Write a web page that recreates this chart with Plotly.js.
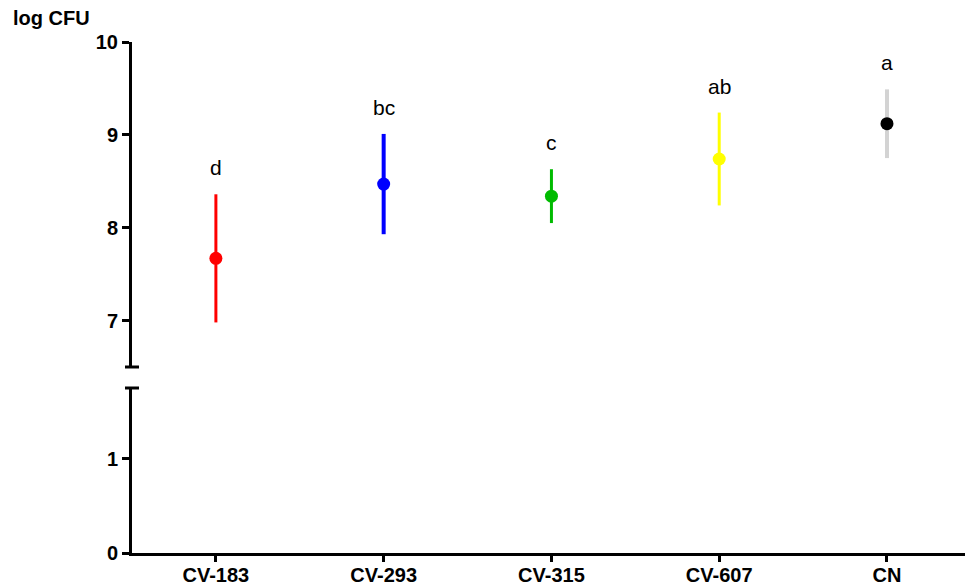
<!DOCTYPE html>
<html>
<head>
<meta charset="utf-8">
<script src="https://cdn.plot.ly/plotly-3.0.1.min.js"></script>
<style>html,body{margin:0;padding:0;background:#fff;}#chart{width:965px;height:588px;}</style>
</head>
<body>
<div id="chart"></div>
<script>
// Data
var categories = ["CV-183", "CV-293", "CV-315", "CV-607", "CN"];
var meanLogCFU = [7.67, 8.47, 8.34, 8.74, 9.12];
var errLogCFU = [0.69, 0.54, 0.29, 0.50, 0.37];
var groupLetters = ["d", "bc", "c", "ab", "a"];
var markerColors = ["#ff0000", "#0000ff", "#00bb00", "#ffff00", "#000000"];
var barColors = ["#ff0000", "#0000ff", "#00bb00", "#ffff00", "#d3d3d3"];
var barWidths = [3, 4, 3, 3, 4];
var upperTicks = [7, 8, 9, 10];
var lowerTicks = [0, 1];

var traces = [];
// invisible trace to create the lower (broken) axis segment
traces.push({x: categories, y: categories.map(function(){return null;}), xaxis: 'x', yaxis: 'y',
  type: 'scatter', mode: 'markers', showlegend: false, hoverinfo: 'skip'});
for (var i = 0; i < categories.length; i++) {
  traces.push({
    x: [categories[i]], y: [meanLogCFU[i]], xaxis: 'x', yaxis: 'y2',
    type: 'scatter', mode: 'markers', showlegend: false,
    marker: {color: markerColors[i], size: 13},
    error_y: {type: 'data', array: [errLogCFU[i]], visible: true, color: barColors[i], thickness: barWidths[i], width: 0}
  });
}

var annotations = [];
for (var j = 0; j < categories.length; j++) {
  annotations.push({
    x: categories[j], y: meanLogCFU[j] + errLogCFU[j], xref: 'x', yref: 'y2',
    text: groupLetters[j], showarrow: false, yanchor: 'bottom', yshift: 13,
    font: {family: 'Liberation Sans, Arial, sans-serif', size: 21, color: '#000'}
  });
}
var plotW = 833, plotH = 511;
annotations.push({
  x: -121 / plotW, y: 1 + 24 / plotH, xref: 'paper', yref: 'paper', text: '<b>log CFU</b>', showarrow: false,
  xanchor: 'left', yanchor: 'middle',
  font: {family: 'Liberation Sans, Arial, sans-serif', size: 20, color: '#000'}
});

var tickFont = {family: 'Liberation Sans, Arial, sans-serif', size: 20, color: '#000'};
var shapes = [
  {type: 'line', xref: 'paper', yref: 'y2 domain', x0: -7 / plotW, x1: 7 / plotW, y0: 0, y1: 0,
   line: {color: '#000', width: 3}},
  {type: 'line', xref: 'paper', yref: 'y domain', x0: -7 / plotW, x1: 7 / plotW, y0: 1, y1: 1,
   line: {color: '#000', width: 3}}
];

var layout = {
  width: 965, height: 588,
  margin: {l: 132, r: 0, t: 42, b: 35},
  paper_bgcolor: '#fff', plot_bgcolor: '#fff',
  showlegend: false,
  xaxis: {
    type: 'category', range: [-0.5, 4.465], anchor: 'y',
    showline: true, linecolor: '#000', linewidth: 3,
    ticks: 'outside', ticklen: 6, tickwidth: 3, tickcolor: '#000',
    showgrid: false, zeroline: false,
    tickfont: tickFont, ticklabelstandoff: -4,
    tickprefix: '<b>', ticksuffix: '</b>'
  },
  yaxis: {
    domain: [0, 165 / plotH], range: [0, 1.75], anchor: 'x',
    tickvals: lowerTicks, ticktext: lowerTicks.map(function(v){return '<b>' + v + '</b>';}),
    showline: true, linecolor: '#000', linewidth: 3,
    ticks: 'outside', ticklen: 7, tickwidth: 3, tickcolor: '#000',
    showgrid: false, zeroline: false, tickfont: tickFont
  },
  yaxis2: {
    domain: [186 / plotH, 1], range: [6.5, 10], anchor: 'x',
    tickvals: upperTicks, ticktext: upperTicks.map(function(v){return '<b>' + v + '</b>';}),
    showline: true, linecolor: '#000', linewidth: 3,
    ticks: 'outside', ticklen: 7, tickwidth: 3, tickcolor: '#000',
    showgrid: false, zeroline: false, tickfont: tickFont
  },
  annotations: annotations,
  shapes: shapes
};

Plotly.newPlot('chart', traces, layout, {displayModeBar: false, staticPlot: true});
</script>
</body>
</html>
